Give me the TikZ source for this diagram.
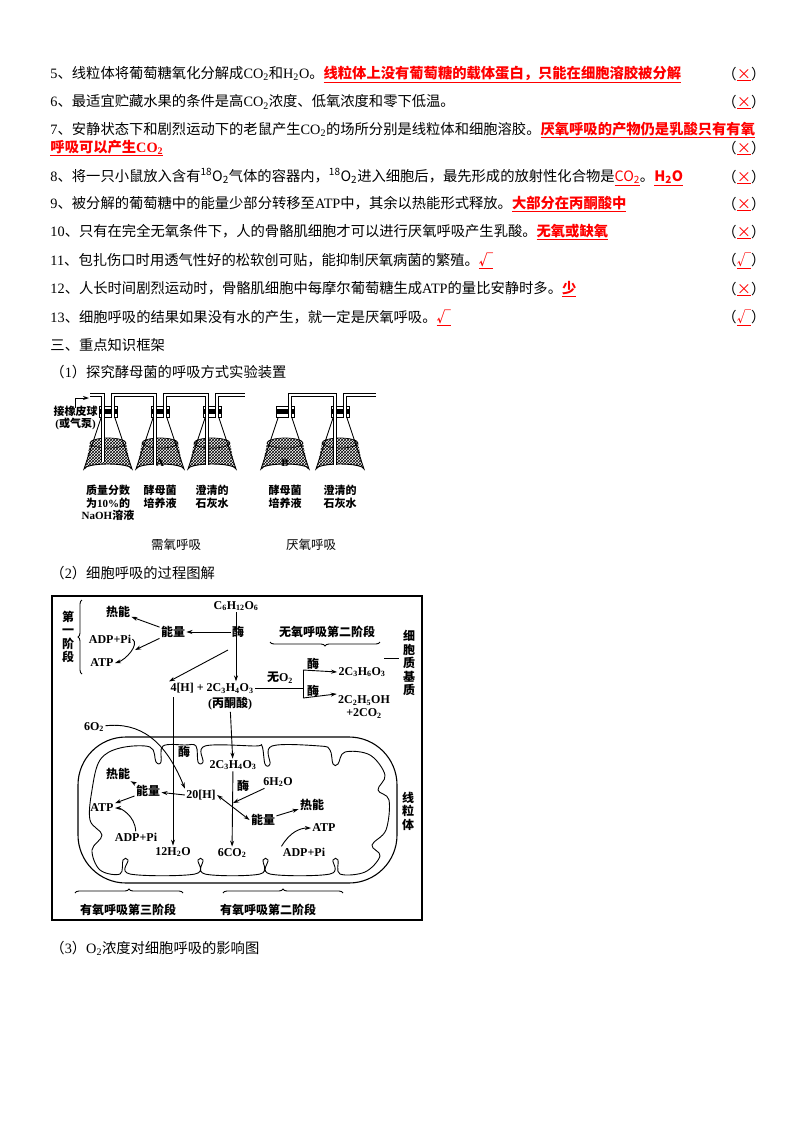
\documentclass[tikz,border=0pt]{standalone}
\usepackage{fontspec}
\setmainfont{Liberation Serif}
\newfontfamily\cjk{Noto Sans CJK SC}
\usetikzlibrary{arrows.meta,decorations.pathreplacing,patterns}
% CJK characters switch to the CJK family
\XeTeXinterchartokenstate=1
\newXeTeXintercharclass\cjkclass
\count255="3000 \loop \XeTeXcharclass\count255=\cjkclass \advance\count255 1 \ifnum\count255<"3040 \repeat
\count255="4E00 \loop \XeTeXcharclass\count255=\cjkclass \advance\count255 1 \ifnum\count255<"A000 \repeat
\count255="FF00 \loop \XeTeXcharclass\count255=\cjkclass \advance\count255 1 \ifnum\count255<"FF70 \repeat
\XeTeXinterchartoks 0 \cjkclass={\cjk}
\XeTeXinterchartoks 4095 \cjkclass={\cjk}
\XeTeXinterchartoks \cjkclass 0={\rmfamily}
\def \dn#1{\textsubscript{#1}}
\def \up#1{\textsuperscript{#1}}
\def \ans#1{\textcolor{red}{\bfseries\underline{#1}}}
\def \mark#1{（\textcolor{red}{\underline{#1}}）}
\tikzset{
  line/.style={anchor=west,inner sep=0pt,font=\fontsize{14.3}{16}\selectfont},
  lbl/.style={inner sep=1pt,font=\fontsize{12.5}{14}\selectfont},
  small/.style={inner sep=0pt,align=center,font=\fontsize{11}{12.5}\selectfont\bfseries},
  tube/.style={double,double distance=2pt,line width=0.9pt},
  arr/.style={-{Stealth[length=6pt,width=4pt]},line width=0.9pt},
  brc/.style={decorate,decoration={brace,amplitude=4pt},line width=0.9pt},
}
\begin{document}
\begin{tikzpicture}[x=1pt,y=-1pt,line width=0.9pt]
\useasboundingbox (0,0) rectangle (800,1133);
% statements
\node[line] (l5) at (50,74) {5、线粒体将葡萄糖氧化分解成CO\dn{2}和H\dn{2}O。\ans{线粒体上没有葡萄糖的载体蛋白，只能在细胞溶胶被分解}};
\node[line] (l6) at (50,102) {6、最适宜贮藏水果的条件是高CO\dn{2}浓度、低氧浓度和零下低温。};
\node[line] (l7) at (50,130) {7、安静状态下和剧烈运动下的老鼠产生CO\dn{2}的场所分别是线粒体和细胞溶胶。\ans{厌氧呼吸的产物仍是乳酸只有有氧}};
\node[line] (l7b) at (50,148) {\ans{呼吸可以产生CO\dn{2}}};
\node[line] (l8) at (50,177) {8、将一只小鼠放入含有\up{18}O\dn{2}气体的容器内，\up{18}O\dn{2}进入细胞后，最先形成的放射性化合物是\textcolor{red}{\underline{CO\dn{2}}}。\ans{H\dn{2}O}};
\node[line] (l9) at (50,204) {9、被分解的葡萄糖中的能量少部分转移至ATP中，其余以热能形式释放。\ans{大部分在丙酮酸中}};
\node[line] (l10) at (50,232) {10、只有在完全无氧条件下，人的骨骼肌细胞才可以进行厌氧呼吸产生乳酸。\ans{无氧或缺氧}};
\node[line] (l11) at (50,261) {11、包扎伤口时用透气性好的松软创可贴，能抑制厌氧病菌的繁殖。\ans{√}};
\node[line] (l12) at (50,289) {12、人长时间剧烈运动时，骨骼肌细胞中每摩尔葡萄糖生成ATP的量比安静时多。\ans{少}};
\node[line] (l13) at (50,318) {13、细胞呼吸的结果如果没有水的产生，就一定是厌氧呼吸。\ans{√}};
\foreach \y/\m in {74/×,102/×,148/×,177/×,204/×,232/×,261/√,289/×,318/√}
  \node[line] at (722,\y) {\mark{\m}};
\node[line] (h3) at (50,345) {三、重点知识框架};
\node[line] (h31) at (50,372) {（1）探究酵母菌的呼吸方式实验装置};
% flasks
\foreach \fx/\nm in {108/f1,160/f2,212/f3,285/f4,340/f5}{
  \fill[pattern=crosshatch] (\fx-18,443) arc (180:360:18 and 5) -- (\fx+23,469) arc (0:-180:23 and 5) -- cycle;
  \draw[line width=0.7pt] (\fx,443) ellipse (18 and 5);
  \draw (\fx-7,418) -- (\fx-24,469) arc (180:360:24 and 5) -- (\fx+7,418);
  \fill (\fx-9,409) rectangle (\fx+9,414);
  \draw (\fx-9,406) rectangle (\fx+9,417);
  \coordinate (\nm) at (\fx,469);
}
\node[small] at (160,463) {A};
\node[small] at (285,463) {B};
% tubes
\draw[tube] (103,462) -- (103,395) -- (90,395);
\draw[tube] (113,418) -- (113,395) -- (155,395) -- (155,465);
\draw[tube] (165,418) -- (165,395) -- (207,395) -- (207,465);
\draw[tube] (217,418) -- (217,395) -- (245,395);
\draw[tube] (290,418) -- (290,395) -- (335,395) -- (335,465);
\draw[tube] (345,418) -- (345,395) -- (376,395);
\node[small,anchor=east] (pump) at (98,418) {接橡皮球\\(或气泵)};
\draw[arr] (75,408) -- (75,398) -- (89,398);
\node[small,below=1pt] at (108,484) {质量分数\\为10\%的\\NaOH溶液};
\foreach \fx in {160,285}\node[small,below=1pt] at (\fx,484) {酵母菌\\培养液};
\foreach \fx in {212,340}\node[small,below=1pt] at (\fx,484) {澄清的\\石灰水};
\node[lbl] (aer) at (176,545) {需氧呼吸};
\node[lbl] (ana) at (311,545) {厌氧呼吸};
\node[line] (h32) at (50,573) {（2）细胞呼吸的过程图解};
% process diagram
\draw[line width=1.3pt] (52,596) rectangle (422,920);
\begin{scope}[every node/.style={lbl,font=\fontsize{12}{13.5}\selectfont\bfseries}]
\node (glu) at (236,606) {C\dn{6}H\dn{12}O\dn{6}};
\node (e1) at (238,632) {酶};
\node (en1) at (173,632) {能量};
\node (ht1) at (118,612) {热能};
\node (adp1) at (110,639) {ADP+Pi};
\node (atp1) at (102,663) {ATP};
\node[align=center] (s1) at (68,637) {第\\一\\阶\\段};
\node (an2) at (327,632) {无氧呼吸第二阶段};
\node (pyr) at (212,688) {4[H] + 2C\dn{3}H\dn{4}O\dn{3}};
\node (pyrn) at (230,704) {(丙酮酸)};
\node (noo) at (280,678) {无O\dn{2}};
\node (e2) at (313,664) {酶};
\node (e3) at (313,691) {酶};
\node (lac) at (362,672) {2C\dn{3}H\dn{6}O\dn{3}};
\node[align=center] (eth) at (364,707) {2C\dn{2}H\dn{5}OH\\+2CO\dn{2}};
\node[align=center] (cyt) at (409,663) {细\\胞\\质\\基\\质};
\node (o2) at (94,727) {6O\dn{2}};
\node (e4) at (184,752) {酶};
\node (pyr2) at (233,765) {2C\dn{3}H\dn{4}O\dn{3}};
\node (e5) at (243,786) {酶};
\node (h2o) at (278,782) {6H\dn{2}O};
\node (h20) at (201,795) {20[H]};
\node (ht2) at (118,774) {热能};
\node (en2) at (148,791) {能量};
\node (atp2) at (102,808) {ATP};
\node (adp2) at (136,837) {ADP+Pi};
\node (w12) at (173,852) {12H\dn{2}O};
\node (co2) at (232,853) {6CO\dn{2}};
\node (ht3) at (312,805) {热能};
\node (en3) at (263,820) {能量};
\node (atp3) at (324,828) {ATP};
\node (adp3) at (304,852) {ADP+Pi};
\node[align=center] (mit) at (408,811) {线\\粒\\体};
\node (st3) at (128,910) {有氧呼吸第三阶段};
\node (st2) at (268,910) {有氧呼吸第二阶段};
\end{scope}
% braces
\draw[brc] (82,674) -- (82,600);
\draw[brc] (380,642) -- (270,642);
\draw[brc] (75,893) -- (183,893);
\draw[brc] (223,893) -- (343,893);
\draw (384,658) -- (399,658);
% mitochondrion
\draw[line width=1.1pt,rounded corners=48pt] (78,737) rectangle (397,883);
\draw[line width=0.9pt] plot[smooth cycle,tension=0.6] coordinates {
  (92,790) (100,760) (120,748) (150,747) (156,762) (161,762) (163,746)
  (185,745) (196,746) (198,762) (203,762) (205,746) (255,746) (262,746)
  (265,764) (270,764) (272,746) (320,746) (330,750) (333,764) (338,764)
  (345,752) (370,755) (385,775) (378,790) (389,800) (386,830) (372,845)
  (380,856) (365,872) (340,874) (338,860) (333,860) (330,874) (270,874)
  (268,860) (263,860) (260,874) (205,874) (203,860) (198,860) (195,874)
  (130,874) (128,860) (123,860) (120,874) (100,870) (92,850) (102,835)
  (90,820) };
% connectors
\draw[arr] (glu) -- (pyr.north -| glu);
\draw[arr] (e1.west) -- (en1);
\draw[arr] (en1) -- (ht1);
\draw[arr] (adp1.east) .. controls (140,645) and (125,660) .. (atp1.east);
\draw[arr] (en1) -- (135,650);
\draw[arr] (228,650) -- (pyr.north west);
\draw (pyr.east) -- (303,688);
\draw[arr] (303,670) -- (lac.west);
\draw[arr] (303,698) -- (eth.north west);
\draw (303,670) -- (303,698);
\draw[arr] (173,697) -- (w12);
\draw[arr] (pyrn) -- (pyr2);
\draw[arr] (pyr2) -- (co2);
\draw[arr] (o2) .. controls (140,722) and (165,740) .. (h20.north west);
\draw[arr] (h20.west) -- (en2);
\draw[arr] (en2) -- (ht2);
\draw[arr] (en2) -- (atp2);
\draw[arr] (adp2) .. controls (135,815) and (120,808) .. (atp2.east);
\draw[arr] (h2o) -- (233,803);
\draw[{Stealth[length=6pt,width=4pt]}-{Stealth[length=6pt,width=4pt]},line width=0.9pt] (h20.east) -- (en3.west);
\draw[arr] (en3) -- (ht3);
\draw[arr] (adp3.north west) .. controls (290,832) and (300,828) .. (atp3.west);
\node[line] (h33) at (50,948) {（3）O\dn{2}浓度对细胞呼吸的影响图};
\end{tikzpicture}
\end{document}
